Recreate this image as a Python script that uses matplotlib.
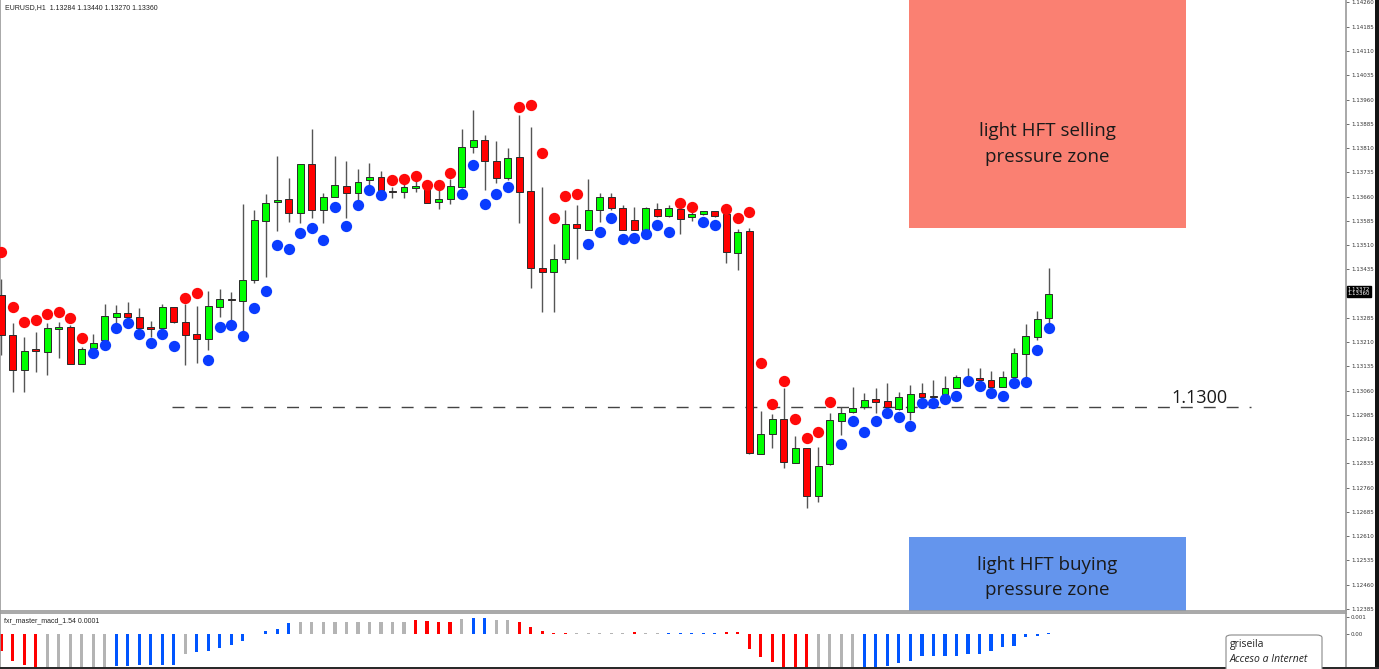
import numpy as np
import matplotlib
matplotlib.use("Agg")
import matplotlib.pyplot as plt
from matplotlib.patches import Rectangle, FancyBboxPatch

# EURUSD H1 candles
opens = [1.13356, 1.13232, 1.13124, 1.13189, 1.13179, 1.13251, 1.13257, 1.13142, 1.13192, 1.13217,
         1.13288, 1.13300, 1.13288, 1.13255, 1.13254, 1.13319, 1.13272, 1.13235, 1.13220, 1.13319,
         1.13343, 1.13337, 1.13402, 1.13584, 1.13643, 1.13652, 1.13609, 1.13761, 1.13618, 1.13659,
         1.13693, 1.13671, 1.13711, 1.13720, 1.13677, 1.13674, 1.13688, 1.13690, 1.13643, 1.13652,
         1.13690, 1.13813, 1.13835, 1.13770, 1.13717, 1.13782, 1.13677, 1.13439, 1.13427, 1.13467,
         1.13575, 1.13557, 1.13618, 1.13659, 1.13625, 1.13588, 1.13557, 1.13622, 1.13600, 1.13622,
         1.13597, 1.13606, 1.13615, 1.13606, 1.13486, 1.13554, 1.12864, 1.12926, 1.12972, 1.12836,
         1.12883, 1.12734, 1.12833, 1.12966, 1.12994, 1.13009, 1.13034, 1.13028, 1.13003, 1.12994,
         1.13053, 1.13043, 1.13050, 1.13068, 1.13099, 1.13099, 1.13093, 1.13071, 1.13102, 1.13173,
         1.13226, 1.13284]
highs = [1.13405, 1.13269, 1.13226, 1.13241, 1.13269, 1.13272, 1.13263, 1.13195, 1.13235, 1.13328,
         1.13325, 1.13334, 1.13316, 1.13275, 1.13328, 1.13319, 1.13328, 1.13322, 1.13368, 1.13374,
         1.13365, 1.13637, 1.13618, 1.13668, 1.13785, 1.13717, 1.13761, 1.13869, 1.13671, 1.13785,
         1.13770, 1.13745, 1.13764, 1.13739, 1.13690, 1.13714, 1.13708, 1.13696, 1.13690, 1.13714,
         1.13869, 1.13928, 1.13850, 1.13832, 1.13810, 1.13912, 1.13875, 1.13690, 1.13513, 1.13618,
         1.13634, 1.13714, 1.13671, 1.13671, 1.13634, 1.13628, 1.13628, 1.13640, 1.13634, 1.13640,
         1.13612, 1.13615, 1.13615, 1.13615, 1.13560, 1.13563, 1.12997, 1.12988, 1.13068, 1.12920,
         1.12883, 1.12886, 1.12991, 1.13009, 1.13071, 1.13053, 1.13068, 1.13084, 1.13056, 1.13077,
         1.13084, 1.13093, 1.13105, 1.13108, 1.13130, 1.13130, 1.13121, 1.13121, 1.13192, 1.13266,
         1.13306, 1.13440]
lows = [1.13170, 1.13056, 1.13056, 1.13118, 1.13108, 1.13161, 1.13142, 1.13142, 1.13179, 1.13217,
        1.13269, 1.13278, 1.13248, 1.13226, 1.13248, 1.13269, 1.13139, 1.13145, 1.13186, 1.13288,
        1.13269, 1.13217, 1.13393, 1.13411, 1.13554, 1.13581, 1.13578, 1.13594, 1.13578, 1.13659,
        1.13594, 1.13649, 1.13696, 1.13680, 1.13656, 1.13656, 1.13674, 1.13640, 1.13622, 1.13637,
        1.13686, 1.13795, 1.13680, 1.13702, 1.13711, 1.13578, 1.13377, 1.13303, 1.13303, 1.13455,
        1.13467, 1.13557, 1.13581, 1.13618, 1.13557, 1.13557, 1.13557, 1.13597, 1.13597, 1.13544,
        1.13584, 1.13603, 1.13597, 1.13455, 1.13433, 1.12864, 1.12864, 1.12883, 1.12821, 1.12836,
        1.12697, 1.12716, 1.12830, 1.12923, 1.12991, 1.13003, 1.12991, 1.13006, 1.13000, 1.12969,
        1.13022, 1.13022, 1.13050, 1.13068, 1.13077, 1.13087, 1.13071, 1.13071, 1.13102, 1.13099,
        1.13217, 1.13270]
closes = [1.13232, 1.13124, 1.13183, 1.13183, 1.13254, 1.13257, 1.13142, 1.13189, 1.13207, 1.13291,
          1.13300, 1.13288, 1.13254, 1.13252, 1.13319, 1.13272, 1.13232, 1.13220, 1.13322, 1.13343,
          1.13340, 1.13402, 1.13588, 1.13640, 1.13649, 1.13609, 1.13761, 1.13618, 1.13659, 1.13696,
          1.13671, 1.13705, 1.13720, 1.13680, 1.13674, 1.13690, 1.13690, 1.13640, 1.13652, 1.13693,
          1.13813, 1.13835, 1.13770, 1.13717, 1.13779, 1.13674, 1.13439, 1.13427, 1.13467, 1.13575,
          1.13563, 1.13618, 1.13659, 1.13625, 1.13557, 1.13557, 1.13625, 1.13600, 1.13625, 1.13591,
          1.13606, 1.13615, 1.13600, 1.13489, 1.13550, 1.12867, 1.12926, 1.12972, 1.12839, 1.12883,
          1.12734, 1.12827, 1.12969, 1.12991, 1.13006, 1.13031, 1.13025, 1.13009, 1.13040, 1.13050,
          1.13040, 1.13040, 1.13068, 1.13102, 1.13102, 1.13093, 1.13071, 1.13102, 1.13176, 1.13229,
          1.13282, 1.13360]

# signal dots (S = red above, B = blue below)
dot_price = [1.13489, 1.13319, 1.13272, 1.13278, 1.13297, 1.13303, 1.13285, 1.13223,
             1.13176, 1.13201, 1.13254, 1.13269, 1.13235, 1.13207, 1.13235, 1.13198,
             1.13346, 1.13362,
             1.13155, 1.13257, 1.13263, 1.13229, 1.13316, 1.13368, 1.13510, 1.13498,
             1.13547, 1.13563, 1.13526, 1.13628, 1.13569, 1.13634, 1.13680, 1.13665,
             1.13711, 1.13714, 1.13724, 1.13696, 1.13696, 1.13733,
             1.13668, 1.13758, 1.13637, 1.13668, 1.13690,
             1.13937, 1.13943, 1.13795, 1.13594, 1.13662, 1.13668,
             1.13513, 1.13550, 1.13594, 1.13529, 1.13532, 1.13544, 1.13572, 1.13550,
             1.13640, 1.13628,
             1.13581, 1.13572,
             1.13622, 1.13594, 1.13612, 1.13145, 1.13019, 1.13090, 1.12972, 1.12914, 1.12932, 1.13025,
             1.12895, 1.12966, 1.12932, 1.12966, 1.12991, 1.12979, 1.12951, 1.13022, 1.13022, 1.13034,
             1.13043, 1.13090, 1.13074, 1.13053, 1.13043, 1.13084, 1.13087, 1.13186, 1.13254]
dot_side = ("SSSSSSSS" "BBBBBBBB" "SS" "BBBBBBBBBBBBBBBB" "SSSSSS" "BBBBB" "SSSSSS"
            "BBBBBBBB" "SS" "BB" "SSSSSSSSSS" "BBBBBBBBBBBBBBBBBBB")

# fxr_master_macd histogram (R red, G grey, B blue)
macd = [-0.0010, -0.0016, -0.0018, -0.0020, -0.0021, -0.0022, -0.0023, -0.0023, -0.0022, -0.0021,
        -0.0019, -0.0019, -0.0018, -0.0018, -0.0018, -0.0018, -0.0012, -0.00106, -0.0010, -0.00082,
        -0.00065, -0.00041, -0.00003, 0.00018, 0.0003, 0.00065, 0.0007, 0.0007, 0.0007, 0.0007,
        0.0007, 0.0007, 0.0007, 0.0007, 0.0007, 0.0007, 0.00082, 0.00076, 0.00072, 0.00072,
        0.00088, 0.00094, 0.00094, 0.00082, 0.00082, 0.0007, 0.00041, 0.00018, 0.00006, 0.00006,
        0.00003, 0.00003, 0.00003, 0.00003, 0.00003, 0.00012, 0.00003, 0.00003, 0.00006, 0.00006,
        0.00006, 0.00006, 0.00006, 0.00012, 0.00012, -0.00088, -0.00135, -0.00165, -0.0020, -0.0021,
        -0.0021, -0.0021, -0.0021, -0.0020, -0.0020, -0.00194, -0.00194, -0.00188, -0.0017, -0.00159,
        -0.0013, -0.0013, -0.0013, -0.0013, -0.00118, -0.00118, -0.0010, -0.00076, -0.0007, -0.00018,
        -0.00012, 0.00006]
macd_col = ("RRRR" "GGGGGG" "BBBBBB" "G" "BBBBBBBBB" "GGGGGGGGGG" "RRRR" "G" "BB" "GG"
            "RRRRR" "GGGGG" "R" "GG" "BBBBB" "RRRRRRRR" "GGGG" "BBBBBBBBBBBBBBBBB")

sell_zone = (1.13563, 1.1430)
buy_zone = (1.1237, 1.12607)
level = 1.1301

idx = np.arange(len(opens))
o = np.array(opens); c = np.array(closes)
h = np.array(highs); l = np.array(lows)

W, H = 1379, 669
fig = plt.figure(figsize=(W / 100, H / 100), dpi=100)
fig.patch.set_facecolor('white')
ax = fig.add_axes([0, 58 / H, 1346 / W, 611 / H])
ax2 = fig.add_axes([0, 2 / H, 1346 / W, 54 / H])

xlim = (-0.10, 116.84)

# zones
ax.add_patch(Rectangle((78.9, sell_zone[0]), 24.0, sell_zone[1] - sell_zone[0],
                       color='#fa8072', zorder=0, lw=0))
ax.add_patch(Rectangle((78.9, buy_zone[0]), 24.0, buy_zone[1] - buy_zone[0],
                       color='#6495ed', zorder=0, lw=0))
ax.text(90.9, 1.13823, "light HFT selling\npressure zone", ha='center', va='center',
        fontsize=13.5, family='Open Sans', color='#1a1a1a', linespacing=1.55, zorder=1)
ax.text(90.9, 1.12482, "light HFT buying\npressure zone", ha='center', va='center',
        fontsize=13.5, family='Open Sans', color='#1a1a1a', linespacing=1.55, zorder=1)

# 1.1300 level
ax.hlines(level, 14.85, 108.6, colors='#444444', lw=1.0, linestyles=(0, (8.6, 7.9)), zorder=1)
ax.text(101.7, level + 0.00027, "1.1300", fontsize=13, family='Open Sans',
        color='#1a1a1a', va='center', ha='left')

# candles
up = c > o
down = c < o
ax.vlines(idx, l, h, colors='#555555', lw=1.0, zorder=2)
body_lo = np.minimum(o, c)
body_h = np.maximum(np.abs(c - o), 0.00004)
cols = np.where(up, '#00ff00', np.where(down, '#ff0000', '#303030'))
ax.bar(idx, body_h, bottom=body_lo, width=0.6, color=cols, edgecolor='#2a2a2a',
       linewidth=0.7, zorder=3)

# dots
side = np.array(list(dot_side))
dp = np.array(dot_price)
ax.scatter(idx[side == 'S'], dp[side == 'S'], s=66, color='#ff0a0a', lw=0, zorder=4)
ax.scatter(idx[side == 'B'], dp[side == 'B'], s=66, color='#0a3cff', lw=0, zorder=4)

ax.set_xlim(*xlim)
ax.set_ylim(1.123788, 1.142677)
ax.set_xticks([])
yt = np.round(np.arange(1.12385, 1.1427, 0.00075), 5)
ax.yaxis.tick_right()
ax.set_yticks(yt)
# the current-price box sits where the 1.13360 label would be
ax.set_yticklabels(["" if abs(v - 1.13360) < 1e-6 else "%.5f" % v for v in yt])
ax.tick_params(axis='y', direction='out', length=2.5, width=0.6, colors='#555555',
               labelsize=4.0, pad=1.0, labelcolor='#333333')
ax.spines['top'].set_visible(False)
for s in ['left', 'right', 'bottom']:
    ax.spines[s].set_color('#9a9a9a')
    ax.spines[s].set_linewidth(1.2)

ax.text(0.004, 0.994, "EURUSD,H1  1.13284 1.13440 1.13270 1.13360", transform=ax.transAxes,
        fontsize=5, family='Liberation Sans', color='#222222', va='top', ha='left')

# current price box
ax.text(1.0012, 1.13366, "1.13372\n1.13360", transform=ax.get_yaxis_transform(),
        fontsize=3.9, color='white', va='center', ha='left', linespacing=0.9,
        bbox=dict(boxstyle='square,pad=0.15', fc='black', ec='black'), clip_on=False, zorder=6)

# indicator panel
cmap = {'R': '#ff0000', 'G': '#b4b4b4', 'B': '#0055ff'}
ax2.bar(idx, macd, width=0.27, color=[cmap[k] for k in macd_col], zorder=2)
ax2.set_xlim(*xlim)
ax2.set_ylim(-0.00194, 0.00123)
ax2.set_xticks([])
ax2.yaxis.tick_right()
ax2.set_yticks([0.001, 0.0])
ax2.set_yticklabels(["0.001", "0.00"])
ax2.tick_params(axis='y', direction='out', length=2, width=0.6, colors='#555555',
                labelsize=4.0, pad=1.0, labelcolor='#333333')
ax2.spines['bottom'].set_visible(False)
for s in ['left', 'right', 'top']:
    ax2.spines[s].set_color('#9a9a9a')
    ax2.spines[s].set_linewidth(1.2)
ax2.text(0.003, 0.86, "fxr_master_macd_1.54 0.0001", transform=ax2.transAxes,
         fontsize=5, family='Liberation Sans', color='#222222', va='center', ha='left')

# window chrome: black strip at right and bottom
fig.add_artist(Rectangle((1375 / W, 0), 4 / W, 1, transform=fig.transFigure,
                         color='#141414', lw=0))
fig.add_artist(Rectangle((0, 0), 1, 2 / H, transform=fig.transFigure,
                         color='#2a2a2a', lw=0))

# tooltip
fig.add_artist(FancyBboxPatch((1226 / W, -0.01), 96 / W, (669 - 635) / H + 0.01,
                              boxstyle='round,pad=0,rounding_size=0.004',
                              transform=fig.transFigure, fc='white', ec='#8a8a8a', lw=0.8))
fig.text(1230 / W, (669 - 645) / H, "griseila", fontsize=7.5, family='Open Sans',
         color='#222222', va='center', ha='left')
fig.text(1230 / W, (669 - 659) / H, "Acceso a Internet", fontsize=7.5, family='Open Sans',
         style='italic', color='#222222', va='center', ha='left')

fig.savefig("out.png", dpi=100, facecolor='white')
